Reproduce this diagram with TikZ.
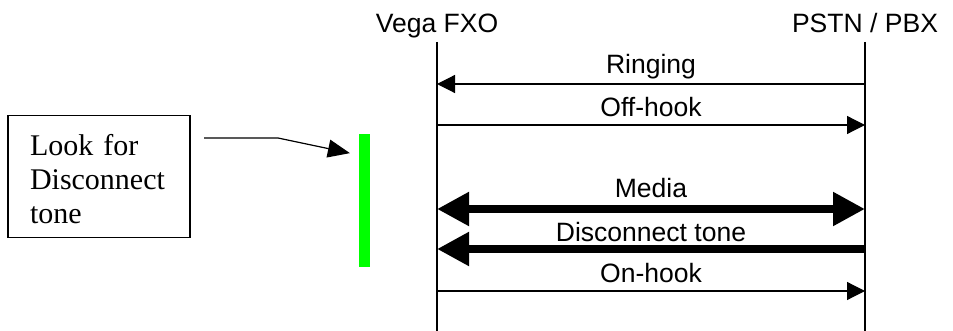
\documentclass[tikz,border=0pt]{standalone}
\usepackage{fontspec}
\setmainfont{Liberation Serif}
\newfontfamily\arialfont{Liberation Sans}
\usetikzlibrary{arrows.meta}
\definecolor{toneGreen}{HTML}{00FF00}

\begin{document}
\begin{tikzpicture}[
    x=0.75pt, y=-0.75pt,
    party/.style={font=\arialfont\fontsize{19.9}{24}\selectfont, anchor=base},
    msglbl/.style={font=\arialfont\fontsize{19.9}{24}\selectfont, anchor=base, yshift=6pt},
    lifeline/.style={line width=1pt},
    msg/.style={line width=0.9pt, -{Triangle[length=13.5pt, width=13.5pt]}},
    bigmsg/.style={line width=6pt, -{Triangle[length=24pt, width=24pt]}},
    pointer/.style={line width=0.9pt, -{Triangle[length=16.5pt, width=13.5pt]}},
    note/.style={draw, line width=1.2pt, font=\fontsize{22.5}{25.5}\selectfont,
        align=left, text width=103.5pt, inner xsep=16.5pt,
        minimum width=136.5pt, minimum height=91.5pt},
]
\useasboundingbox (0,0) rectangle (953,331);

% Parties and their lifelines
\node[party] (fxo) at (437,33) {Vega FXO};
\node[party] (pbx) at (865,33) {PSTN / PBX};
\coordinate (fxoTop) at (437,42);
\coordinate (fxoEnd) at (437,331);
\coordinate (pbxTop) at (865,42);
\coordinate (pbxEnd) at (865,331);
\draw[lifeline] (fxoTop) -- (fxoEnd);
\draw[lifeline] (pbxTop) -- (pbxEnd);

% Call set-up
\draw[msg] (pbxTop |- 0,84) -- (fxoTop |- 0,84)
    node[msglbl, midway, yshift=1.5pt] {Ringing};
\draw[msg] (fxoTop |- 0,125) -- (pbxTop |- 0,125)
    node[msglbl, midway] {Off-hook};

% Media both ways, then the far end hangs up
\draw[bigmsg, {Triangle[length=24pt, width=24pt]}-{Triangle[length=24pt, width=24pt]}]
    (fxoTop |- 0,209) -- (pbxTop |- 0,209)
    node[msglbl, midway, yshift=2.25pt] {Media};
\draw[bigmsg] (pbxTop |- 0,249) -- (fxoTop |- 0,249)
    node[msglbl, midway, yshift=-0.75pt] {Disconnect tone};
\draw[msg] (fxoTop |- 0,291) -- (pbxTop |- 0,291)
    node[msglbl, midway] {On-hook};

% Tone detection window
\node[fill=toneGreen, minimum width=8.25pt, minimum height=99.75pt, inner sep=0pt]
    (tonebar) at (364.5,200.5) {};
\node[note] (lookbox) at (99,176.5) {\rule{0pt}{19.4pt}Look for\\Disconnect\\tone};
\coordinate (noteOut) at (204,138);
\coordinate (noteBend) at (278,138);
\draw[pointer, shorten >=6.75pt] (noteOut) -- (noteBend) -- (tonebar.west |- 0,155);

\end{tikzpicture}
\end{document}
